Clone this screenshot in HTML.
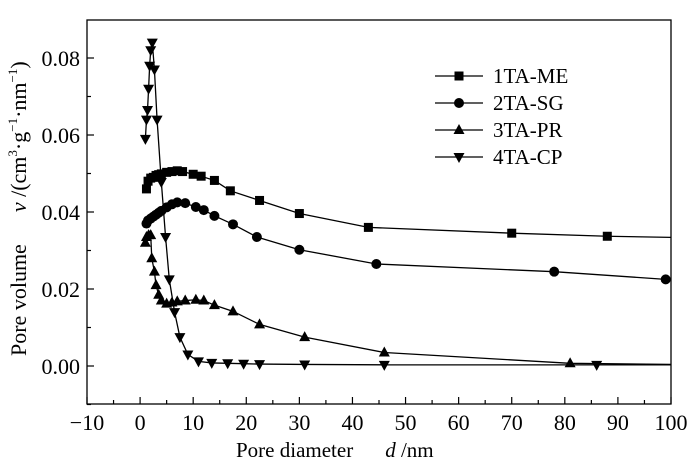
<!DOCTYPE html>
<html><head><meta charset="utf-8"><style>
body{margin:0;background:#fff}
svg{display:block;font-family:"Liberation Serif",serif}
</style></head><body>
<svg id="chart" width="700" height="472" viewBox="0 0 700 472" xmlns="http://www.w3.org/2000/svg">
<g id="plot"></g>
</svg>
<script>
const xTicks=[-10,0,10,20,30,40,50,60,70,80,90,100];
const yTicks=[0,0.02,0.04,0.06,0.08];
const yTickLabels=["0.00","0.02","0.04","0.06","0.08"];
const seriesNames=["1TA-ME","2TA-SG","3TA-PR","4TA-CP"];
const s1x=[1.2,1.5,2,2.5,3,3.5,4,5,6,7,8,10,11.5,14,17,22.5,30,43,70,88,100];
const s1y=[0.046,0.048,0.0488,0.049,0.0495,0.0497,0.0499,0.0503,0.0505,0.0507,0.0505,0.0498,0.0493,0.0482,0.0455,0.043,0.0396,0.036,0.0345,0.0337,0.0334];
const s2x=[1.2,1.5,2,2.5,3,3.5,4,5,6,7,8.5,10.5,12,14,17.5,22,30,44.5,78,99];
const s2y=[0.037,0.0378,0.0383,0.0388,0.0393,0.0398,0.0403,0.0412,0.042,0.0425,0.0423,0.0413,0.0405,0.039,0.0368,0.0335,0.0302,0.0265,0.0245,0.0225];
const s3x=[1,1.2,1.6,2,2.2,2.7,3,3.5,4,5,6,7,8.5,10.5,12,14,17.5,22.5,31,46,81,100];
const s3y=[0.032,0.0335,0.034,0.034,0.028,0.0245,0.021,0.0185,0.017,0.0162,0.0165,0.0168,0.017,0.0172,0.017,0.0158,0.0142,0.0108,0.0075,0.0035,0.0007,0.0004];
const s4x=[1,1.2,1.4,1.6,1.8,2,2.3,2.7,3.2,4,4.8,5.5,6.5,7.5,9,11,13.5,16.5,19.5,22.5,31,46,86,100];
const s4y=[0.059,0.064,0.0665,0.072,0.078,0.082,0.084,0.077,0.064,0.0478,0.0335,0.0225,0.014,0.0075,0.003,0.0012,0.0008,0.0007,0.0006,0.0005,0.0004,0.0003,0.0003,0.0003];

const L=87,R=671,T=20,B=404;
const X=v=>L+(v+10)*(R-L)/110;
const Y=v=>366-v*3850;
const NS="http://www.w3.org/2000/svg";
const svg=document.getElementById('chart');
function mk(tag,attrs,parent){const e=document.createElementNS(NS,tag);for(const k in attrs)e.setAttribute(k,attrs[k]);(parent||svg).appendChild(e);return e;}

const fr=mk('rect',{x:L,y:T,width:R-L,height:B-T,fill:'none',stroke:'#000','stroke-width':1.3});



xTicks.forEach((t,i)=>{
 const x=X(t);
 const tk=mk('line',{x1:x,x2:x,y1:B,y2:B-7,stroke:'#000','stroke-width':1.2});
 
 
 if(i<xTicks.length-1){const xm=X(t+5);const mt=mk('line',{x1:xm,x2:xm,y1:B,y2:B-4,stroke:'#000','stroke-width':1.2});
 
 }
 const lb=mk('text',{x:x,y:B+26,'font-size':22,'text-anchor':'middle'});
 lb.textContent=t<0?'\u2212'+Math.abs(t):String(t);
 
 
});
yTicks.forEach((t,i)=>{
 const y=Y(t);
 const tk=mk('line',{x1:L,x2:L+7,y1:y,y2:y,stroke:'#000','stroke-width':1.2});
 
 
 const lb=mk('text',{x:L-7,y:y+8,'font-size':22,'text-anchor':'end'});
 lb.textContent=yTickLabels[i];
 
 
});
[-0.01,0.01,0.03,0.05,0.07].forEach(t=>{const y=Y(t);const mt=mk('line',{x1:L,x2:L+4,y1:y,y2:y,stroke:'#000','stroke-width':1.2});
 
 });

const xt=mk('text',{x:236,y:457,'font-size':21});
xt.innerHTML='Pore diameter<tspan dx="32" font-style="italic">d</tspan> /nm';


const yt=mk('text',{x:0,y:0,'font-size':22,transform:'translate(26,356) rotate(-90)'});
yt.innerHTML='Pore volume<tspan dx="32" font-style="italic">v</tspan> /(cm<tspan font-size="13" dy="-9">3</tspan><tspan dy="9">·g</tspan><tspan font-size="13" dy="-9">−1</tspan><tspan dy="9">·nm</tspan><tspan font-size="13" dy="-9">−1</tspan><tspan dy="9">)</tspan>';



function marker(type,x,y,g){
 let e;
 if(type===0)e=mk('rect',{x:x-4.5,y:y-4.5,width:9,height:9,fill:'#000'},g);
 else if(type===1)e=mk('circle',{cx:x,cy:y,r:5,fill:'#000'},g);
 else if(type===2)e=mk('polygon',{points:`${x},${y-6} ${x-5.5},${y+4} ${x+5.5},${y+4}`,fill:'#000'},g);
 else e=mk('polygon',{points:`${x},${y+6} ${x-5.5},${y-4} ${x+5.5},${y-4}`,fill:'#000'},g);
 return e;
}
const allX=[s1x,s2x,s3x,s4x],allY=[s1y,s2y,s3y,s4y];
allX.forEach((xs,si)=>{
 const g=mk('g',{});
 
 
 const pts=xs.map((v,i)=>X(v)+','+Y(allY[si][i])).join(' ');
 const pl=mk('polyline',{points:pts,fill:'none',stroke:'#000','stroke-width':1.3},g);
 
 
 xs.forEach((v,i)=>{if(v>=100)return;const m=marker(si,X(v),Y(allY[si][i]),g);
  
  });
});

const lg=mk('g',{});


seriesNames.forEach((n,i)=>{
 const y=76+i*27;
 const ln=mk('line',{x1:435,x2:483,y1:y,y2:y,stroke:'#000','stroke-width':1.3},lg);
 
 
 const m=marker(i,459,y,lg);
 
 
 const t=mk('text',{x:493,y:y+7,'font-size':21},lg);
 t.textContent=n;
 
 
});
</script>
</body></html>
